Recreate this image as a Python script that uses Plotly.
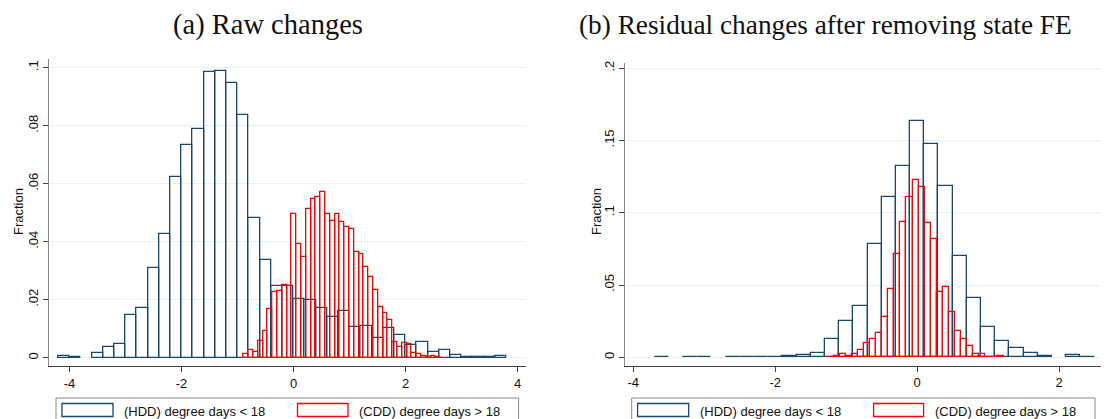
import numpy as np
import plotly.graph_objects as go

# The page body has an 8 px margin, so the figure starts at (8, 8) in the window.
OFF = 8
W, H = 1109 - OFF, 419 - OFF

# ---------------- data ----------------
# Panel (a): raw changes
hdd_a_start, hdd_a_width = -4.2, 0.2
hdd_a = [0.0007, 0.0004, None, 0.0017, 0.0038, 0.0046, 0.0146, 0.0172, 0.0310, 0.0428,
         0.0623, 0.0732, 0.0787, 0.0986, 0.0990, 0.0948, 0.0836, 0.0481, 0.0336, 0.0247,
         0.0247, 0.0203, 0.0200, 0.0170, 0.0141, 0.0160, 0.0106, 0.0109, 0.0069, 0.0102,
         0.0079, 0.0045, 0.0053, 0.0021, 0.0027, 0.0011, 0.0001, 0.0002, 0.0001, 0.0005]

cdd_a_start, cdd_a_width = -0.89, 0.0857
cdd_a = [0.0012, 0.0027, 0.0021, 0.0058, 0.0091, 0.0168, 0.0225, 0.0231, 0.0252, 0.0246,
         0.0494, 0.0393, 0.0347, 0.0512, 0.0548, 0.0553, 0.0571, 0.0494, 0.0471, 0.0496,
         0.0469, 0.0451, 0.0443, 0.0364, 0.0358, 0.0314, 0.0280, 0.0235, 0.0176, 0.0153,
         0.0129, 0.0054, 0.0037, 0.0052, 0.0049, 0.0017, 0.0012, 0.0006, 0.0002, 0.0006,
         0.0001]

# Panel (b): residual changes after removing state FE
hdd_b_start, hdd_b_width = -3.7, 0.2
hdd_b = [0.0003, None, 0.0003, 0.0003, None, 0.0003, 0.0003, 0.0005, 0.0005, 0.0007,
         0.0014, 0.0032, 0.0124, 0.0251, 0.0357, 0.0784, 0.1111, 0.1325, 0.1637, 0.1478,
         0.1183, 0.0703, 0.0413, 0.0212, 0.0112, 0.0061, 0.0029, 0.0009, None, 0.0015,
         0.0005]

cdd_b_start, cdd_b_width = -1.263, 0.0855
cdd_b = [0.0005, 0.0009, 0.0023, 0.0009, 0.0023, 0.0051, 0.0101, 0.0127, 0.0171, 0.0277,
         0.0473, 0.0715, 0.0934, 0.1109, 0.1229, 0.1180, 0.0931, 0.0816, 0.0450, 0.0484,
         0.0311, 0.0180, 0.0129, 0.0081, 0.0023, 0.0025, 0.0005, 0.0005, 0.0012]

x_ticks_a = [-4, -2, 0, 2, 4]
x_ticks_b = [-4, -2, 0, 2]
y_ticks_a = [0, 0.02, 0.04, 0.06, 0.08, 0.1]
y_ticktext_a = ["0", ".02", ".04", ".06", ".08", ".1"]
y_ticks_b = [0, 0.05, 0.1, 0.15, 0.2]
y_ticktext_b = ["0", ".05", ".1", ".15", ".2"]

titles = ["(a) Raw changes", "(b) Residual changes after removing state FE"]
legend_labels = ["(HDD) degree days < 18", "(CDD) degree days > 18"]
y_title = "Fraction"

# ---------------- styles ----------------
NAVY = "#1a476f"
RED = "#ff0000"
GRID = "#e8f0f1"
SANS = "Liberation Sans, Arial, sans-serif"
SERIF = "Liberation Serif, Times New Roman, serif"


def centers(start, width, n):
    return start + width * (np.arange(n) + 0.5)


def px(x):
    # window pixel -> paper fraction
    return (x - OFF) / W


def py(y):
    return 1 - (y - OFF) / H


fig = go.Figure()


def add_hist(vals, start, width, color, xa, ya):
    fig.add_trace(go.Bar(
        x=centers(start, width, len(vals)), y=vals, width=width,
        marker=dict(color="rgba(0,0,0,0)", line=dict(color=color, width=1.3)),
        xaxis=xa, yaxis=ya, showlegend=False, hoverinfo="skip"))


add_hist(hdd_a, hdd_a_start, hdd_a_width, NAVY, "x", "y")
add_hist(cdd_a, cdd_a_start, cdd_a_width, RED, "x", "y")
add_hist(hdd_b, hdd_b_start, hdd_b_width, NAVY, "x2", "y2")
add_hist(cdd_b, cdd_b_start, cdd_b_width, RED, "x2", "y2")

axis_common = dict(showline=True, ticks="outside", ticklen=5, tickwidth=1,
                   tickcolor="#444", zeroline=False, automargin=False,
                   tickfont=dict(family=SANS, size=13, color="#111"))

fig.update_layout(
    width=W, height=H,
    margin=dict(l=0, r=0, t=0, b=0),
    paper_bgcolor="white", plot_bgcolor="white",
    barmode="overlay", bargap=0,
    xaxis=dict(domain=[px(49.3), px(526)], range=[-4.36, 4.15],
               tickvals=x_ticks_a, ticktext=["-4", "-2", "0", "2", "4"],
               showgrid=False, linecolor="#444", linewidth=1.2, anchor="y", **axis_common),
    yaxis=dict(domain=[py(366), py(59)], range=[-0.00286, 0.103],
               tickvals=y_ticks_a, ticktext=y_ticktext_a, tickangle=-90,
               showgrid=True, gridcolor=GRID, gridwidth=1,
               linecolor="#888", linewidth=1.4, anchor="x", **axis_common),
    xaxis2=dict(domain=[px(625), px(1101.7)], range=[-4.117, 2.6],
                tickvals=x_ticks_b, ticktext=["-4", "-2", "0", "2"],
                showgrid=False, linecolor="#444", linewidth=1.2, anchor="y2", **axis_common),
    yaxis2=dict(domain=[py(365.7), py(63)], range=[-0.0058, 0.2035],
                tickvals=y_ticks_b, ticktext=y_ticktext_b, tickangle=-90,
                showgrid=True, gridcolor=GRID, gridwidth=1,
                linecolor="#888", linewidth=1.4, anchor="x2", **axis_common),
)

annotations = []
# panel titles
annotations.append(dict(text=titles[0], x=px(267.5), y=py(25), xref="paper", yref="paper",
                        showarrow=False, xanchor="center", yanchor="middle",
                        font=dict(family=SERIF, size=28.5, color="#111")))
annotations.append(dict(text=titles[1], x=px(825), y=py(25), xref="paper", yref="paper",
                        showarrow=False, xanchor="center", yanchor="middle",
                        font=dict(family=SERIF, size=27.3, color="#111")))
# y-axis titles
for xc in (18, 596):
    annotations.append(dict(text=y_title, x=px(xc), y=py(212), xref="paper", yref="paper",
                            showarrow=False, textangle=-90, xanchor="center", yanchor="middle",
                            font=dict(family=SANS, size=13, color="#111")))

shapes = []
# legends (box + sample rectangles + labels)
legend_specs = [
    dict(box=(56, 518.6), s1=(62, 113), t1=121.5, s2=(297.5, 348), t2=357),
    dict(box=(631.7, 1095), s1=(637.6, 688.7), t1=698, s2=(873.6, 923.6), t2=933.4),
]
for spec in legend_specs:
    shapes.append(dict(type="rect", xref="paper", yref="paper",
                       x0=px(spec["box"][0]), x1=px(spec["box"][1]), y0=py(430), y1=py(398),
                       line=dict(color="#888", width=1), fillcolor="white", layer="below"))
    shapes.append(dict(type="rect", xref="paper", yref="paper",
                       x0=px(spec["s1"][0]), x1=px(spec["s1"][1]), y0=py(416.5), y1=py(403.5),
                       line=dict(color=NAVY, width=1.3), fillcolor="rgba(0,0,0,0)"))
    shapes.append(dict(type="rect", xref="paper", yref="paper",
                       x0=px(spec["s2"][0]), x1=px(spec["s2"][1]), y0=py(416.5), y1=py(403.5),
                       line=dict(color=RED, width=1.3), fillcolor="rgba(0,0,0,0)"))
    annotations.append(dict(text=legend_labels[0], x=px(spec["t1"]), y=py(411), xref="paper",
                            yref="paper", showarrow=False, xanchor="left", yanchor="middle",
                            font=dict(family=SANS, size=13, color="#111")))
    annotations.append(dict(text=legend_labels[1], x=px(spec["t2"]), y=py(411), xref="paper",
                            yref="paper", showarrow=False, xanchor="left", yanchor="middle",
                            font=dict(family=SANS, size=13, color="#111")))

fig.update_layout(annotations=annotations, shapes=shapes)
fig.write_html("out.html")
